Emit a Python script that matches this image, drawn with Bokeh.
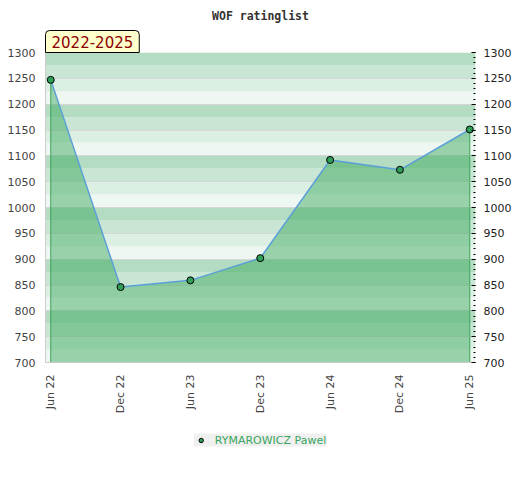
from math import pi
from bokeh.plotting import figure
from bokeh.layouts import column
from bokeh.models import (FixedTicker, LinearAxis, Legend, LegendItem, Range1d, Title)
from bokeh.embed import file_html
from bokeh.resources import INLINE
from bokeh.core.properties import value

# ---- data ----
periods = ["Jun 22", "Dec 22", "Jun 23", "Dec 23", "Jun 24", "Dec 24", "Jun 25"]
ratings = [1247, 846, 859, 902, 1092, 1073, 1151]
player = "RYMAROWICZ Pawel"
title_text = "WOF ratinglist"
period_label = "2022-2025"
y_ticks = list(range(700, 1301, 50))
y_minor = list(range(700, 1301, 10))
y_min, y_max = 700, 1300

# ---- style ----
stripe_step = 25
stripe_colors = ["#eef7f1", "#dcefe3", "#c8e6d3", "#b3dcc2"]  # bottom->top within each 100
FONT = "DejaVu Sans"
MARK = dict(size=7, fill_color="#2e9e58", line_color="black", line_width=1)

x = list(range(len(periods)))

p = figure(frame_width=430, frame_height=310,
           x_range=Range1d(-0.075, len(periods) - 1 + 0.082),
           y_range=Range1d(y_min, y_max),
           output_backend="svg", toolbar_location=None,
           min_border_left=45, min_border_right=45, min_border_top=50,
           min_border_bottom=0, title=None)
p.outline_line_color = None
p.background_fill_color = "white"
p.border_fill_color = "white"

# background stripes
s_bottoms = list(range(y_min, y_max, stripe_step))
s_tops = [b + stripe_step for b in s_bottoms]
s_colors = [stripe_colors[((b - y_min) // stripe_step) % 4] for b in s_bottoms]
p.hstrip(y0=s_bottoms, y1=s_tops, fill_color=s_colors, line_color=None, level="image")

# grid
p.xgrid.visible = False
p.ygrid.ticker = FixedTicker(ticks=y_ticks)
p.ygrid.grid_line_color = "#d6d6d6"
p.ygrid.grid_line_width = 1

# area + edges
p.varea(x=x, y1=[y_min] * len(x), y2=ratings, fill_color="#30a455", fill_alpha=0.45)
p.segment(x0=[x[0], x[-1]], y0=[ratings[0], ratings[-1]],
          x1=[x[0], x[-1]], y1=[y_min, y_min], line_color="#3aa55a", line_width=1)
p.line(x, ratings, line_color="#5b9fd8", line_width=1.5)
r = p.scatter(x, ratings, **MARK)

# left axis
ya = p.yaxis[0]
ya.ticker = FixedTicker(ticks=y_ticks)
ya.major_tick_in = 0
ya.major_tick_out = 0
ya.minor_tick_in = 0
ya.minor_tick_out = 0
ya.axis_line_color = "#cccccc"
ya.major_label_standoff = 10
ya.major_label_text_font = FONT
ya.major_label_text_font_size = "11px"
ya.major_label_text_color = "#444444"

# right axis
ra = LinearAxis(ticker=FixedTicker(ticks=y_ticks, minor_ticks=y_minor))
ra.major_tick_in = 4
ra.major_tick_out = 0
ra.minor_tick_in = 2
ra.minor_tick_out = 0
ra.axis_line_color = None
ra.major_tick_line_color = "black"
ra.minor_tick_line_color = "black"
ra.major_label_standoff = 8
ra.major_label_text_font = FONT
ra.major_label_text_font_size = "11px"
ra.major_label_text_color = "#222222"
p.add_layout(ra, "right")

# bottom axis
xa = p.xaxis[0]
xa.ticker = FixedTicker(ticks=x)
xa.major_label_overrides = {i: lab for i, lab in zip(x, periods)}
xa.major_label_orientation = pi / 2
xa.major_tick_in = 0
xa.major_tick_out = 0
xa.minor_tick_in = 0
xa.minor_tick_out = 0
xa.axis_line_color = "#cccccc"
xa.major_label_standoff = 12
xa.major_label_text_font = FONT
xa.major_label_text_font_size = "11px"
xa.major_label_text_color = "#444444"

# period label (closest to frame)
t_period = Title(text=period_label, align="left", offset=0, standoff=0,
                 text_font=FONT, text_font_size="15px", text_font_style="normal",
                 text_color="#8b0000",
                 background_fill_color="#ffffcc", background_fill_alpha=1,
                 border_line_color="black", border_line_width=1,
                 padding=(6, 5), border_radius=(4, 4, 0, 0))
p.add_layout(t_period, "above")

# main title
t_main = Title(text=title_text, align="center", standoff=12,
               text_font="DejaVu Sans Mono", text_font_style="bold",
               text_font_size="11.5px", text_color="#333333")
p.add_layout(t_main, "above")

# legend strip (separate small figure below the chart)
q = figure(width=520, height=48, x_range=Range1d(0, 1), y_range=Range1d(0, 1),
           output_backend="svg", toolbar_location=None, title=None,
           min_border=0)
q.axis.visible = False
q.grid.visible = False
q.outline_line_color = None
q.background_fill_color = "white"
q.border_fill_color = "white"
# legend key glyph: one series point, lies outside this strip's view
rq = q.scatter(x=[x[0]], y=[ratings[0]], **MARK)
legend = Legend(items=[LegendItem(label=value(player), renderers=[rq])],
                orientation="horizontal", location="center",
                padding=5, margin=0, glyph_width=14, glyph_height=11,
                label_height=11, label_standoff=7,
                background_fill_color="#f0f0f0", background_fill_alpha=1,
                border_line_color=None, label_text_font=FONT,
                label_text_font_size="11px", label_text_color="#3aa55d")
q.add_layout(legend)

page = column(p, q, spacing=0)
open("out.html", "w").write(file_html(page, INLINE))
